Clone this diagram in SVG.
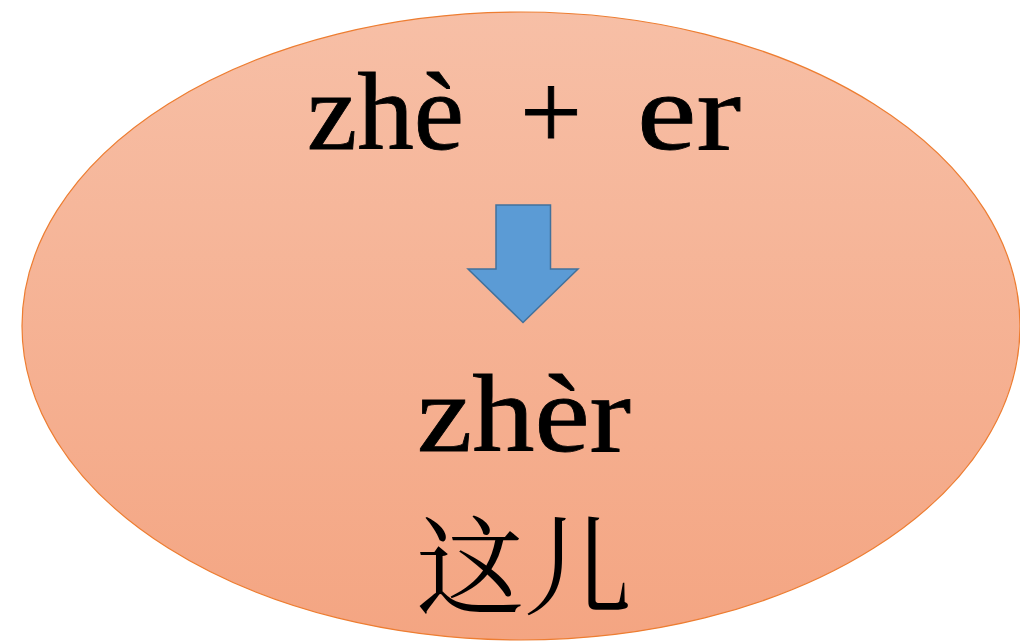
<svg xmlns="http://www.w3.org/2000/svg" width="1020" height="642" viewBox="0 0 1020 642">
  <defs>
    <linearGradient id="bg" x1="0" y1="0" x2="0" y2="1">
      <stop offset="0" stop-color="#F7BFA6"/>
      <stop offset="1" stop-color="#F4A582"/>
    </linearGradient>
    <style>
      .pin { font-family: "Liberation Serif", "Times New Roman", serif; font-size: 110px; fill: #000; stroke: #000; stroke-width: 0.8px; }
      .han { font-family: "Noto Serif CJK SC", "Noto Sans CJK SC", serif; font-size: 108px; fill: #000; }
    </style>
  </defs>
  <rect width="1020" height="642" fill="#FFFFFF"/>
  <g id="bubble">
    <ellipse cx="521" cy="326" rx="499" ry="314" fill="url(#bg)" stroke="#ED7D31" stroke-width="1.2"/>
  </g>
  <g id="formula">
    <text class="pin" y="149"><tspan x="307" textLength="157" lengthAdjust="spacingAndGlyphs">zhè</tspan><tspan x="520">+</tspan><tspan x="637" textLength="104" lengthAdjust="spacingAndGlyphs">er</tspan></text>
  </g>
  <g id="connectors">
    <path d="M496,205 L550.5,205 L550.5,269 L578,269 L523,322.5 L468,269 L496,269 Z" fill="#5B9BD5" stroke="#41719C" stroke-width="1.5" stroke-linejoin="miter"/>
  </g>
  <g id="result">
    <text class="pin" x="417" y="451" textLength="214" lengthAdjust="spacingAndGlyphs">zhèr</text>
    <text class="han" x="524" y="606" text-anchor="middle">这儿</text>
  </g>
</svg>
